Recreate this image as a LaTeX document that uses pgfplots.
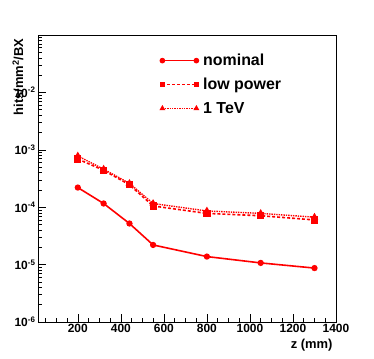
\documentclass[border=0pt]{standalone}
\usepackage{pgfplots}
\pgfplotsset{compat=1.18}
\usepackage{fontspec}
\setmainfont{Liberation Sans}
\newcommand{\tl}[1]{\textbf{10}\textsuperscript{\textbf{#1}}}
\begin{document}
\begin{tikzpicture}
\path[use as bounding box] (0,0) rectangle (374bp,359bp);
\begin{axis}[
  at={(38bp,37bp)}, anchor=south west,
  scale only axis, width=298bp, height=287bp,
  ymode=log, ymin=1e-6, ymax=1e-1,
  xmin=15, xmax=1400,
  axis line style={line width=0.7bp},
  tick pos=left, tick align=inside,
  major tick length=8bp, minor tick length=4bp,
  tick style={black, line width=0.5bp},
  xtick={200,400,...,1400},
  xticklabels={200,400,600,800,1000,1200,1400},
  minor xtick={50,100,...,1400},
  ytick={1e-6,1e-5,1e-4,1e-3,1e-2},
  yticklabels={\tl{-6},\tl{-5},\tl{-4},\tl{-3},\tl{-2}},
  minor ytick={2e-6,3e-6,4e-6,5e-6,6e-6,7e-6,8e-6,9e-6,
               2e-5,3e-5,4e-5,5e-5,6e-5,7e-5,8e-5,9e-5,
               2e-4,3e-4,4e-4,5e-4,6e-4,7e-4,8e-4,9e-4,
               2e-3,3e-3,4e-3,5e-3,6e-3,7e-3,8e-3,9e-3,
               2e-2,3e-2,4e-2,5e-2,6e-2,7e-2,8e-2,9e-2},
  xticklabel style={font=\fontsize{12}{14}\selectfont\bfseries, yshift=1bp},
  yticklabel style={font=\fontsize{12}{14}\selectfont\bfseries, xshift=1bp},
  xlabel={z (mm)},
  xlabel style={font=\fontsize{13}{15}\selectfont\bfseries, at={(axis description cs:1,0)}, anchor=north east, yshift=-14bp},
  ylabel={hits/mm\textsuperscript{2}/BX},
  ylabel style={font=\fontsize{13}{15}\selectfont\bfseries, at={(axis description cs:-0.067,1)}, anchor=east},
  legend style={draw=none, fill=none, at={(0.40,0.948)}, anchor=north west,
    font=\fontsize{16}{18}\selectfont\bfseries, row sep=7bp,
    legend cell align=left},
  legend image code/.code={\draw[mark repeat=1,mark phase=1,#1, mark size=2bp] plot coordinates {(0bp,0bp) (34bp,0bp)};\path (38bp,0bp);},
]
\addplot[red, line width=1.6bp, mark=*, mark size=2.3bp, mark options={solid}] coordinates {
 (200,2.2e-4) (320,1.16e-4) (440,5.2e-5) (550,2.2e-5) (800,1.38e-5) (1050,1.07e-5) (1300,8.7e-6)};
\addlegendentry{nominal}
\addplot[red, line width=1.6bp, densely dashed, mark=square*, mark size=2.8bp, mark options={solid}] coordinates {
 (200,6.9e-4) (320,4.4e-4) (440,2.46e-4) (550,1.05e-4) (800,7.8e-5) (1050,7.1e-5) (1300,6.0e-5)};
\addlegendentry{low power}
\addplot[red, line width=1.4bp, densely dotted, mark=triangle*, mark size=3bp, mark options={solid}] coordinates {
 (200,7.8e-4) (320,4.6e-4) (440,2.6e-4) (550,1.16e-4) (800,8.6e-5) (1050,7.8e-5) (1300,6.7e-5)};
\addlegendentry{1 TeV}
\end{axis}
\end{tikzpicture}
\end{document}
